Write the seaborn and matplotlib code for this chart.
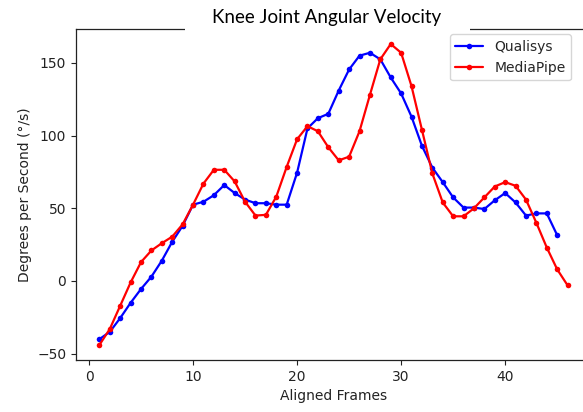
import numpy as np
import pandas as pd
import matplotlib
matplotlib.use("Agg")
import matplotlib.pyplot as plt
from matplotlib.patches import Rectangle
import seaborn as sns

# Knee joint angular velocity (deg/s) per aligned frame
qualisys = [-40, -35, -25.5, -15, -5.5, 3, 14, 27, 38, 52.5,
            54.5, 59, 66, 60.5, 56, 53.5, 53.5, 52.5, 52.5, 74.5,
            105, 112, 115, 131, 145.5, 155, 157, 152.5, 140, 129,
            113, 93, 78, 68, 57.5, 50.5, 50.5, 49.5, 55.5, 60.5,
            54, 45, 46.5, 46.5, 31.5]
mediapipe = [-44, -33, -17, -1, 13, 21, 26, 30.5, 39, 52.5,
             67, 76.5, 76.5, 68.5, 54.5, 45, 45.5, 58, 78.5, 97.5,
             106.5, 103, 92, 83, 85.5, 103, 128, 152.5, 163, 157,
             134, 104, 74, 54, 44.5, 44.5, 50, 57.5, 65, 68,
             65.5, 56, 40, 23, 8, -3]
frames_q = list(range(1, len(qualisys) + 1))
frames_m = list(range(1, len(mediapipe) + 1))

series_names = ["Qualisys", "MediaPipe"]
series_colors = ["blue", "red"]

sns.set_style("white")
plt.rcParams["font.family"] = ["DejaVu Sans"]

W, H = 583, 412
fig = plt.figure(figsize=(W / 100, H / 100), dpi=100)
ax = fig.add_axes([76 / W, (H - 360) / H, (591 - 76) / W, (360 - 29) / H])

for frames, vals, name, col in zip([frames_q, frames_m], [qualisys, mediapipe],
                                   series_names, series_colors):
    df = pd.DataFrame({"frame": frames, "value": vals})
    sns.lineplot(data=df, x="frame", y="value", ax=ax, color=col, label=name,
                 marker="o", markersize=4, markeredgecolor=col,
                 markeredgewidth=0, linewidth=1.6)

ax.set_xlim(-1.25, 48.25)
ax.set_ylim(-54.35, 173.35)
ax.set_xticks([0, 10, 20, 30, 40])
ax.set_yticks([-50, 0, 50, 100, 150])
ax.tick_params(axis="both", direction="out", length=3.5, width=0.8,
               labelsize=10, colors="#222222", bottom=True, left=True)
for s in ax.spines.values():
    s.set_color("#222222")
    s.set_linewidth(0.9)
ax.set_xlabel("Aligned Frames", fontsize=10, color="#222222")
ax.set_ylabel("Degrees per Second (°/s)", fontsize=10, color="#222222")

leg = ax.legend(loc="upper right", bbox_to_anchor=(0.975, 1.005), fontsize=10,
                frameon=True, borderaxespad=0.5)
leg.get_frame().set_edgecolor("#cccccc")

# white band behind the title, interrupting the top spine
fig.patches.append(Rectangle((185 / W, (H - 31) / H), (470 - 185) / W, 31 / H,
                             transform=fig.transFigure, facecolor="white",
                             edgecolor="none", zorder=5))
fig.text(327 / W, (H - 18) / H, "Knee Joint Angular Velocity",
         ha="center", va="center", fontsize=13.5, family="Lato",
         color="black", zorder=6)

fig.savefig("out.png", dpi=100)
